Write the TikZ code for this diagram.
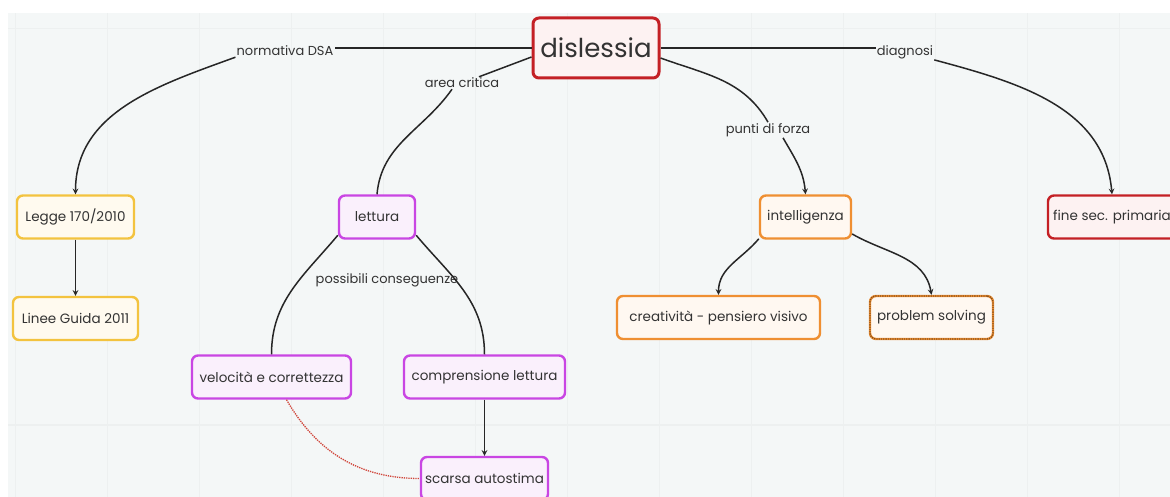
\documentclass[tikz,border=0pt]{standalone}
\usepackage{fontspec}
\setmainfont{Poppins}
\usepackage{xcolor}
\usepackage{tikz}
\usetikzlibrary{calc, arrows, positioning}

\definecolor{mapbg}{HTML}{F4F7F7}
\definecolor{mapgrid}{HTML}{EDF0F0}
\definecolor{maptext}{HTML}{333333}
\definecolor{redline}{HTML}{C42025}
\definecolor{redfill}{HTML}{FDF2F2}
\definecolor{yellowline}{HTML}{F3C33F}
\definecolor{yellowfill}{HTML}{FFFAEF}
\definecolor{violetline}{HTML}{C946E3}
\definecolor{violetfill}{HTML}{FAF0FC}
\definecolor{orangeline}{HTML}{EF8F32}
\definecolor{orangefill}{HTML}{FFF8F1}
\definecolor{dotred}{HTML}{D0453A}

\tikzstyle{box}        = [rectangle, rounded corners=6pt, line width=2.4pt, minimum height=43pt, inner xsep=4pt, text centered, text=maptext, font=\fontsize{13.5}{15}\selectfont]
\tikzstyle{rootbox}    = [box, draw=redline, fill=redfill, line width=3pt, minimum width=126pt, minimum height=60pt, font=\fontsize{26}{29}\selectfont]
\tikzstyle{redbox}     = [box, draw=redline, fill=redfill]
\tikzstyle{yellowbox}  = [box, draw=yellowline, fill=yellowfill]
\tikzstyle{violetbox}  = [box, draw=violetline, fill=violetfill]
\tikzstyle{orangebox}  = [box, draw=orangeline, fill=orangefill]
\tikzstyle{dotbox}     = [orangebox, postaction={draw=orangeline!55!black, densely dotted, line width=1.3pt}]
\tikzstyle{lbl}        = [text=maptext, inner sep=1pt, font=\fontsize{13}{15}\selectfont]
\tikzstyle{line}       = [line width=1.5pt, black!85]
\tikzstyle{arrow}      = [line, ->, >=stealth]
\tikzstyle{dotline}    = [line width=1.3pt, dotred, densely dotted]

\begin{document}
\begin{tikzpicture}[x=1pt, y=-1pt]
    \useasboundingbox (0,0) rectangle (1170,497);
    \fill[mapbg] (8,13) rectangle (1170,497);
    \foreach \gx in {15, 107, 199, 291, 383, 475, 567, 659, 751, 843, 935, 1027, 1119}
      \draw[mapgrid, line width=0.8pt] (\gx,13) -- (\gx,497);
    \draw[mapgrid, line width=0.8pt] (8,28) -- (1170,28);
    \draw[mapgrid, line width=1.2pt] (8,425) -- (1170,425);

    \node (dis)     [rootbox] at (596,48) {dislessia};

    \node (legge)   [yellowbox, minimum width=117pt] at (75.5,217) {Legge 170/2010};
    \node (linee)   [yellowbox, minimum width=125pt] at (75.5,318.5) {Linee Guida 2011};

    \node (lettura) [violetbox, minimum width=76pt]  at (377,217) {lettura};
    \node (velo)    [violetbox, minimum width=159pt] at (271.5,377) {velocità e correttezza};
    \node (compr)   [violetbox, minimum width=161pt] at (484.5,377) {comprensione lettura};
    \node (scarsa)  [violetbox, minimum width=127pt] at (484.5,478.5) {scarsa autostima};

    \node (intel)   [orangebox, minimum width=91pt]  at (805.5,217) {intelligenza};
    \node (crea)    [orangebox, minimum width=203pt] at (718.5,317.5) {creatività - pensiero visivo};
    \node (probl)   [dotbox, minimum width=123pt]    at (931.5,317.5) {problem solving};

    \node (fine)    [redbox, minimum width=128pt]    at (1112,217) {fine sec. primaria};

    % edge labels
    \node (lnorm)   [lbl] at (285,51)  {normativa DSA};
    \node (lcrit)   [lbl] at (462,83)  {area critica};
    \node (lpunti)  [lbl] at (768,130) {punti di forza};
    \node (ldiag)   [lbl] at (905,52)  {diagnosi};
    \node (lposs)   [lbl] at (387,280) {possibili conseguenze};

    \draw [line]  (dis.west) -- (dis.west -| lnorm.east);
    \draw [arrow] (lnorm.south west) to[out=200, in=90] (legge.north);
    \draw [arrow] (legge.south) -- (linee.north);

    \draw [line]  ([yshift=-9pt]dis.west) -- ([xshift=17pt]lcrit.north);
    \draw [line]  ([xshift=-10pt]lcrit.south) to[out=235, in=85] (lettura.north);
    \draw [line]  (lettura.205) to[out=230, in=90] (velo.north);
    \draw [line]  (lettura.-25) to[out=-50, in=90] (compr.north);
    \draw [arrow] (compr.south) -- (scarsa.north);
    \draw [dotline] ([xshift=15pt]velo.south) to[out=-60, in=180] (scarsa.west);

    \draw [line]  ([yshift=-10pt]dis.east) to[out=-20, in=120] (lpunti.north);
    \draw [arrow] ([xshift=15pt]lpunti.south) to[out=-60, in=95] (intel.north);
    \draw [arrow] (intel.205) to[out=230, in=90] (crea.north);
    \draw [arrow] (intel.-20) to[out=-30, in=100] (probl.north);

    \draw [line]  (dis.east) -- (dis.east -| ldiag.west);
    \draw [arrow] (ldiag.south east) to[out=-15, in=95] (fine.north);

\end{tikzpicture}
\end{document}
